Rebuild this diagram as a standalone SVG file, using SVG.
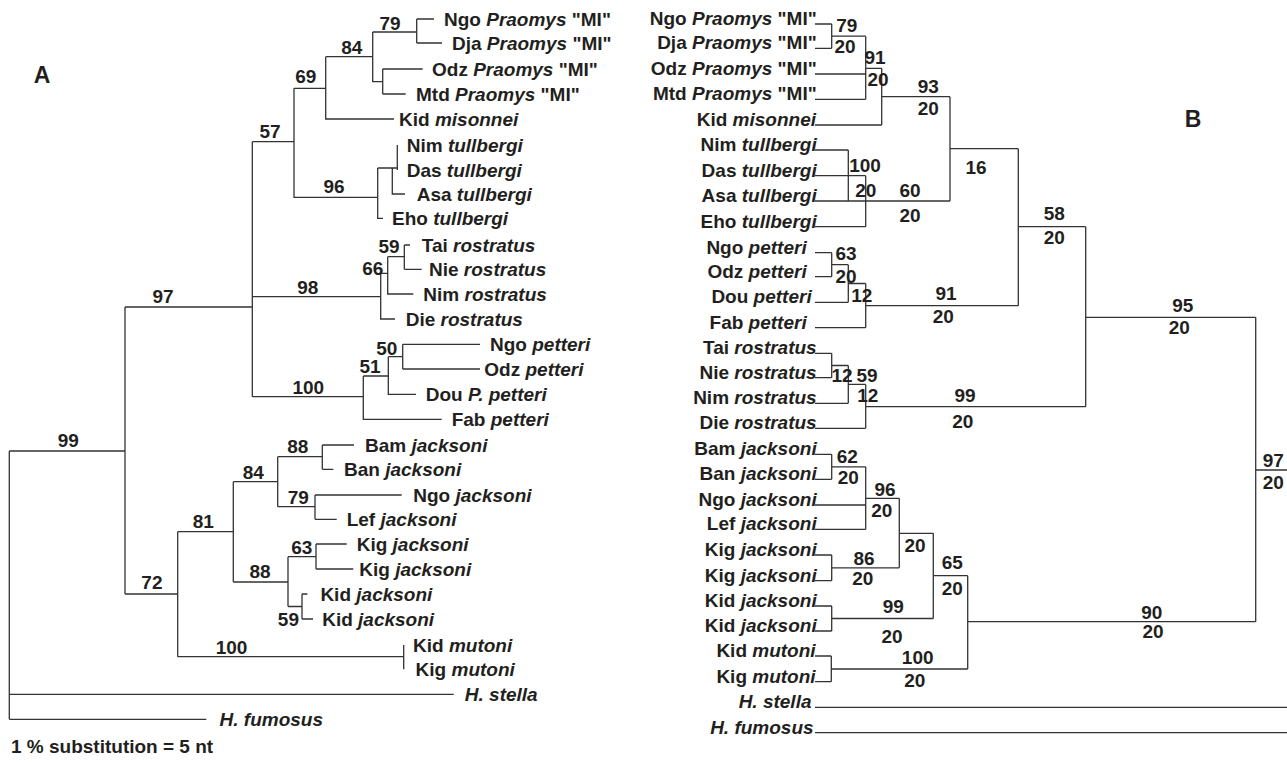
<svg xmlns="http://www.w3.org/2000/svg" width="1287" height="762" viewBox="0 0 1287 762">
<style>
text{font-family:"Liberation Sans",Arial,sans-serif;font-size:19px;font-weight:bold;fill:#231f20}
.i{font-style:italic}
.e{text-anchor:end}
.m{text-anchor:middle}
.big{font-size:23px}
.c path{stroke:#333;stroke-width:1.3;fill:none}
</style>
<rect width="1287" height="762" fill="#fff"/>
<text class="m big" x="42" y="83">A</text>
<text class="m big" x="1193" y="127">B</text>
<g class="c" id="connectors-A">
<path d="M416.7 19H434M416.7 43H442M416.7 19V43M372.7 32H416.7M382.7 69H422.7M382.7 94H405.7M382.7 69V94M372.7 32V81.7H382.7M325.7 56.7H372.7M325.7 56.7V119H394M294 88.3H325.7M294 88.3V197.3H377.7M252.3 141.7H294"/>
<path d="M377.7 168V218.3H383M377.7 168H397.3M392.3 168V194H405M397.3 145V170"/>
<path d="M404.3 245H410M404.3 269.3H421.7M404.3 245V269.3M387.7 256.7H404.3M387.7 256.7V294H413.3M380.7 273.3H387.7M380.7 273.3V319H395M252.3 296.7H380.7"/>
<path d="M402.7 344.3H480M402.7 369H480M402.7 344.3V369M388.3 356.7H402.7M388.3 356.7V394.3H416M363.3 376H388.3M363.3 376V419.3H441.7M252.3 396.7H363.3M252.3 141.7V396.7M125 307H252.3"/>
<path d="M322.3 445H354M322.3 469.3H333.3M322.3 445V469.3M277.7 456.7H322.3M315 495H401.7M315 519.3H336.7M315 495V519.3M277.7 506.7H315M277.7 456.7V506.7M233.3 481.7H277.7M316 544H346.7M316 569H353.3M316 544V569M288 556.7H316M302 594H307.4M302 619H313M302 594V619M288 606.5H302M288 556.7V606.5M233.3 582H288M233.3 481.7V582M177.7 531.7H233.3"/>
<path d="M403.7 645V669.3M177.7 656.7H403.7M177.7 531.7V656.7M125 594H177.7M125 307V594M9.3 451H125M9.3 451V719.3M9.3 694.3H453.7M9.3 719.3H206.3"/>
</g>
<g class="c" id="connectors-B">
<path d="M815 24H831.7M815 48.3H831.7M831.7 24V48.3M831.7 36.2H865.7M815 74H865.7M815 99.3H865.7M865.7 36.2V99.3M865.7 68.3H881.7M815 125H881.7M881.7 68.3V125M881.7 96.7H950"/>
<path d="M815 150H848.3M815 201H848.3M848.3 150V201M815 175.7H865.7M815 226.7H865.7M865.7 175.7V226.7M848.3 201H950M950 96.7V201M950 148.7H1018.3"/>
<path d="M815 252.7H831.7M815 276.7H831.7M831.7 252.7V276.7M831.7 264.7H848.3M815 302.3H848.3M848.3 264.7V302.3M848.3 283.5H865.7M815 327.7H865.7M865.7 283.5V327.7M865.7 305.7H1018.3M1018.3 148.7V305.7M1018.3 226.7H1085.7"/>
<path d="M815 353.3H831.7M815 377.7H831.7M831.7 353.3V377.7M831.7 365.5H848.3M815 403.3H848.3M848.3 365.5V403.3M848.3 384.4H865.7M815 428.3H865.7M865.7 384.4V428.3M865.7 406.7H1085.7M1085.7 226.7V406.7M1085.7 317.3H1255.7M1255.7 317.3V621.7M1255.7 470H1287"/>
<path d="M815 454.3H831.7M815 479.3H831.7M831.7 454.3V479.3M831.7 466.8H865.7M815 505H865.7M815 529.3H865.7M865.7 466.8V529.3M865.7 498.3H899.3M815 555H831.7M815 580.7H831.7M831.7 555V580.7M831.7 567.8H899.3M899.3 498.3V567.8M899.3 533.3H933.3M815 606H831.7M815 631H831.7M831.7 606V631M831.7 618.5H933.3M933.3 533.3V618.5M933.3 575.7H967.7"/>
<path d="M815 656H831.3M815 681.7H831.3M831.3 656V681.7M831.3 669H967.7M967.7 575.7V669M967.7 621.7H1255.7M815 707.3H1287M815 732.7H1287"/>
</g>
<g id="tree-A-leaves">
<g id="a-ngo-mi"><text x="444" y="26">Ngo <tspan class="i">Praomys</tspan> "MI"</text></g>
<g id="a-dja-mi"><text x="452" y="50">Dja <tspan class="i">Praomys</tspan> "MI"</text></g>
<g id="a-odz-mi"><text x="432" y="76">Odz <tspan class="i">Praomys</tspan> "MI"</text></g>
<g id="a-mtd-mi"><text x="416" y="101">Mtd <tspan class="i">Praomys</tspan> "MI"</text></g>
<g id="a-kid-mis"><text x="399" y="126">Kid <tspan class="i">misonnei</tspan></text></g>
<g id="a-nim-tul"><text x="406.7" y="152">Nim <tspan class="i">tullbergi</tspan></text></g>
<g id="a-das-tul"><text x="406.7" y="177">Das <tspan class="i">tullbergi</tspan></text></g>
<g id="a-asa-tul"><text x="416.7" y="201">Asa <tspan class="i">tullbergi</tspan></text></g>
<g id="a-eho-tul"><text x="392" y="225">Eho <tspan class="i">tullbergi</tspan></text></g>
<g id="a-tai-ros"><text x="421.7" y="252">Tai <tspan class="i">rostratus</tspan></text></g>
<g id="a-nie-ros"><text x="429" y="276">Nie <tspan class="i">rostratus</tspan></text></g>
<g id="a-nim-ros"><text x="423.3" y="301">Nim <tspan class="i">rostratus</tspan></text></g>
<g id="a-die-ros"><text x="405.7" y="326">Die <tspan class="i">rostratus</tspan></text></g>
<g id="a-ngo-pet"><text x="490" y="351">Ngo <tspan class="i">petteri</tspan></text></g>
<g id="a-odz-pet"><text x="484.3" y="376">Odz <tspan class="i">petteri</tspan></text></g>
<g id="a-dou-pet"><text x="425.7" y="401">Dou <tspan class="i">P. petteri</tspan></text></g>
<g id="a-fab-pet"><text x="451.7" y="426">Fab <tspan class="i">petteri</tspan></text></g>
<g id="a-bam-jac"><text x="365" y="452">Bam <tspan class="i">jacksoni</tspan></text></g>
<g id="a-ban-jac"><text x="344" y="476">Ban <tspan class="i">jacksoni</tspan></text></g>
<g id="a-ngo-jac"><text x="413.3" y="502">Ngo <tspan class="i">jacksoni</tspan></text></g>
<g id="a-lef-jac"><text x="346.7" y="526">Lef <tspan class="i">jacksoni</tspan></text></g>
<g id="a-kig-jac1"><text x="356.7" y="551">Kig <tspan class="i">jacksoni</tspan></text></g>
<g id="a-kig-jac2"><text x="359.3" y="576">Kig <tspan class="i">jacksoni</tspan></text></g>
<g id="a-kid-jac1"><text x="320.4" y="601">Kid <tspan class="i">jacksoni</tspan></text></g>
<g id="a-kid-jac2"><text x="322.2" y="626">Kid <tspan class="i">jacksoni</tspan></text></g>
<g id="a-kid-mut"><text x="413" y="652">Kid <tspan class="i">mutoni</tspan></text></g>
<g id="a-kig-mut"><text x="415.6" y="676">Kig <tspan class="i">mutoni</tspan></text></g>
<g id="a-h-stella"><text class="i" x="464.8" y="701">H. stella</text></g>
<g id="a-h-fumosus"><text class="i" x="219.6" y="726">H. fumosus</text></g>
</g>
<g id="tree-A-nodes">
<g id="a-n79"><text class="m" x="390" y="30">79</text></g>
<g id="a-n84"><text class="m" x="351.7" y="54">84</text></g>
<g id="a-n69"><text class="m" x="305.7" y="83">69</text></g>
<g id="a-n57"><text class="m" x="270" y="138">57</text></g>
<g id="a-n96"><text class="m" x="334" y="193">96</text></g>
<g id="a-n59r"><text class="m" x="389" y="253">59</text></g>
<g id="a-n66"><text class="m" x="372.7" y="275">66</text></g>
<g id="a-n98"><text class="m" x="307.7" y="294">98</text></g>
<g id="a-n97"><text class="m" x="163" y="303">97</text></g>
<g id="a-n50"><text class="m" x="386.7" y="355">50</text></g>
<g id="a-n51"><text class="m" x="370" y="373">51</text></g>
<g id="a-n100p"><text class="m" x="308.3" y="394">100</text></g>
<g id="a-n99"><text class="m" x="68.3" y="447">99</text></g>
<g id="a-n88"><text class="m" x="297.7" y="453">88</text></g>
<g id="a-n84j"><text class="m" x="253.3" y="479">84</text></g>
<g id="a-n79j"><text class="m" x="298.3" y="504">79</text></g>
<g id="a-n81"><text class="m" x="203.3" y="528">81</text></g>
<g id="a-n63"><text class="m" x="301.7" y="554">63</text></g>
<g id="a-n88b"><text class="m" x="260" y="578">88</text></g>
<g id="a-n72"><text class="m" x="151.9" y="589">72</text></g>
<g id="a-n59k"><text class="e" x="299" y="626">59</text></g>
<g id="a-n100m"><text class="m" x="231.5" y="654">100</text></g>
</g>
<text x="11" y="753">1 % substitution = 5 nt</text>
<g id="tree-B-leaves">
<g id="b-ngo-mi"><text class="e" x="816.7" y="25">Ngo <tspan class="i">Praomys</tspan> "MI"</text></g>
<g id="b-dja-mi"><text class="e" x="816.7" y="49.3">Dja <tspan class="i">Praomys</tspan> "MI"</text></g>
<g id="b-odz-mi"><text class="e" x="816.7" y="75">Odz <tspan class="i">Praomys</tspan> "MI"</text></g>
<g id="b-mtd-mi"><text class="e" x="816.7" y="100.3">Mtd <tspan class="i">Praomys</tspan> "MI"</text></g>
<g id="b-kid-mis"><text class="e" x="816" y="126">Kid <tspan class="i">misonnei</tspan></text></g>
<g id="b-nim-tul"><text class="e" x="816.7" y="151">Nim <tspan class="i">tullbergi</tspan></text></g>
<g id="b-das-tul"><text class="e" x="816.7" y="176.7">Das <tspan class="i">tullbergi</tspan></text></g>
<g id="b-asa-tul"><text class="e" x="816.7" y="202">Asa <tspan class="i">tullbergi</tspan></text></g>
<g id="b-eho-tul"><text class="e" x="816.7" y="227.7">Eho <tspan class="i">tullbergi</tspan></text></g>
<g id="b-ngo-pet"><text class="e" x="806.7" y="253.7">Ngo <tspan class="i">petteri</tspan></text></g>
<g id="b-odz-pet"><text class="e" x="806.7" y="277.7">Odz <tspan class="i">petteri</tspan></text></g>
<g id="b-dou-pet"><text class="e" x="811.7" y="303.3">Dou <tspan class="i">petteri</tspan></text></g>
<g id="b-fab-pet"><text class="e" x="806.7" y="328.7">Fab <tspan class="i">petteri</tspan></text></g>
<g id="b-tai-ros"><text class="e" x="816.7" y="354.3">Tai <tspan class="i">rostratus</tspan></text></g>
<g id="b-nie-ros"><text class="e" x="816.7" y="378.7">Nie <tspan class="i">rostratus</tspan></text></g>
<g id="b-nim-ros"><text class="e" x="816.7" y="404.3">Nim <tspan class="i">rostratus</tspan></text></g>
<g id="b-die-ros"><text class="e" x="816.7" y="429.3">Die <tspan class="i">rostratus</tspan></text></g>
<g id="b-bam-jac"><text class="e" x="816.7" y="455.3">Bam <tspan class="i">jacksoni</tspan></text></g>
<g id="b-ban-jac"><text class="e" x="816.7" y="480.3">Ban <tspan class="i">jacksoni</tspan></text></g>
<g id="b-ngo-jac"><text class="e" x="816.7" y="506">Ngo <tspan class="i">jacksoni</tspan></text></g>
<g id="b-lef-jac"><text class="e" x="816.7" y="530.3">Lef <tspan class="i">jacksoni</tspan></text></g>
<g id="b-kig-jac1"><text class="e" x="816.7" y="556">Kig <tspan class="i">jacksoni</tspan></text></g>
<g id="b-kig-jac2"><text class="e" x="816.7" y="581.7">Kig <tspan class="i">jacksoni</tspan></text></g>
<g id="b-kid-jac1"><text class="e" x="816.7" y="607">Kid <tspan class="i">jacksoni</tspan></text></g>
<g id="b-kid-jac2"><text class="e" x="816.7" y="632">Kid <tspan class="i">jacksoni</tspan></text></g>
<g id="b-kid-mut"><text class="e" x="815.6" y="657">Kid <tspan class="i">mutoni</tspan></text></g>
<g id="b-kig-mut"><text class="e" x="815.6" y="682.7">Kig <tspan class="i">mutoni</tspan></text></g>
<g id="b-h-stella"><text class="e i" x="811.5" y="708.3">H. stella</text></g>
<g id="b-h-fumosus"><text class="e i" x="813.6" y="733.7">H. fumosus</text></g>
</g>
<g id="tree-B-nodes">
<g id="b-n79"><text class="m" x="846.7" y="31.7">79</text><text class="m" x="845" y="53.3">20</text></g>
<g id="b-n91"><text class="m" x="875" y="64">91</text><text class="m" x="878" y="86">20</text></g>
<g id="b-n93"><text class="m" x="928.3" y="93.3">93</text><text class="m" x="928.3" y="115">20</text></g>
<g id="b-n100t"><text class="m" x="865" y="171.7">100</text><text class="m" x="865.7" y="196.7">20</text></g>
<g id="b-n60"><text class="m" x="910" y="196.7">60</text><text class="m" x="910" y="221.7">20</text></g>
<g id="b-n16"><text class="m" x="976" y="174.3">16</text></g>
<g id="b-n63"><text class="m" x="846" y="259.5">63</text><text class="m" x="846" y="282.5">20</text></g>
<g id="b-n12p"><text class="m" x="861.7" y="301.7">12</text></g>
<g id="b-n91p"><text class="m" x="946" y="300">91</text><text class="m" x="943.3" y="323.3">20</text></g>
<g id="b-n58"><text class="m" x="1054.3" y="220">58</text><text class="m" x="1054.3" y="244.3">20</text></g>
<g id="b-n95"><text class="m" x="1182.7" y="311.7">95</text><text class="m" x="1179.3" y="334">20</text></g>
<g id="b-n12r"><text class="m" x="842" y="381.7">12</text></g>
<g id="b-n59r"><text class="m" x="867" y="381.7">59</text><text class="m" x="867.7" y="401.7">12</text></g>
<g id="b-n99r"><text class="m" x="965" y="401.7">99</text><text class="m" x="962.7" y="428.3">20</text></g>
<g id="b-n62"><text class="m" x="847.3" y="463.3">62</text><text class="m" x="848.3" y="484">20</text></g>
<g id="b-n97"><text class="m" x="1273.3" y="466.7">97</text><text class="m" x="1273.3" y="489.3">20</text></g>
<g id="b-n96"><text class="m" x="885" y="496">96</text><text class="m" x="881.7" y="517.3">20</text></g>
<g id="b-n20"><text class="m" x="915" y="551.7">20</text></g>
<g id="b-n86"><text class="m" x="864" y="565">86</text><text class="m" x="862.7" y="585">20</text></g>
<g id="b-n65"><text class="m" x="952.3" y="569">65</text><text class="m" x="952.3" y="595">20</text></g>
<g id="b-n99k"><text class="m" x="893.3" y="612.7">99</text><text class="m" x="892" y="642.7">20</text></g>
<g id="b-n90"><text class="m" x="1151.7" y="619.3">90</text><text class="m" x="1153" y="638.3">20</text></g>
<g id="b-n100m"><text class="m" x="917.7" y="664">100</text><text class="m" x="914.8" y="686.7">20</text></g>
</g>
</svg>
